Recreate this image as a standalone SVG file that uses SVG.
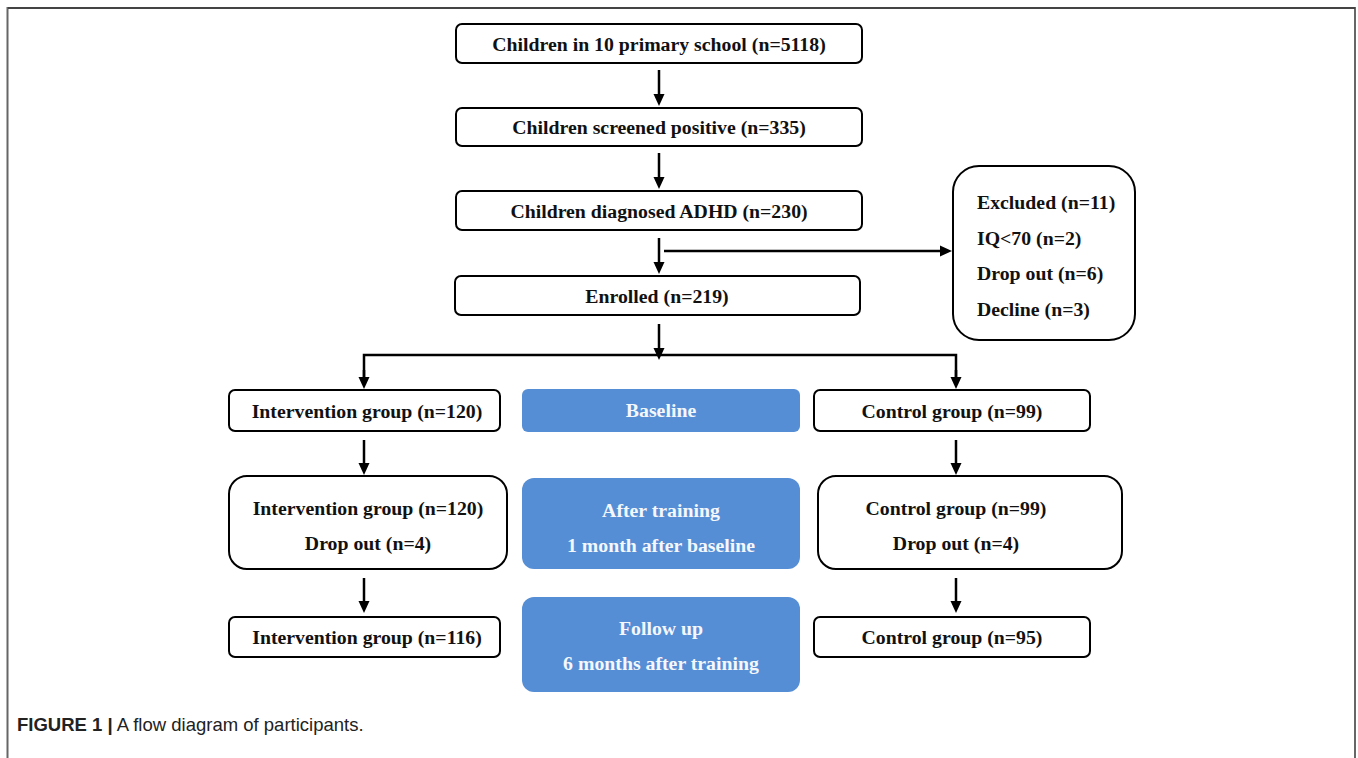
<svg xmlns="http://www.w3.org/2000/svg" width="1358" height="758" viewBox="0 0 1358 758">
<defs>
<marker id="ah" markerWidth="12" markerHeight="12" refX="6" refY="6" orient="auto" markerUnits="userSpaceOnUse" viewBox="0 0 12 12">
<path d="M0,0.5 L12,6 L0,11.5 z" fill="#000"/>
</marker>
<style>
.box{fill:#fff;stroke:#000;stroke-width:2}
.blue{fill:#558ED5;stroke:none}
.t{font-family:"Liberation Serif","Times New Roman",serif;font-weight:bold;font-size:19.8px;fill:#111;text-anchor:middle}
.tl{font-family:"Liberation Serif","Times New Roman",serif;font-weight:bold;font-size:19.8px;fill:#111}
.tw{font-family:"Liberation Serif","Times New Roman",serif;font-weight:bold;font-size:19.8px;fill:#f4f7fc;text-anchor:middle}
.c{stroke:#000;stroke-width:2.5;fill:none}
.cap{font-family:"Liberation Sans",Arial,sans-serif;font-size:18.5px;fill:#222}
</style>
</defs>
<rect width="1358" height="758" fill="#fff"/>
<path d="M7.5,758 V8 H1355 V758" fill="none" stroke="#666" stroke-width="2"/>
<path d="M8,8 H1355" stroke="#444" stroke-width="2"/>

<g id="connectors">
<line class="c" x1="659" y1="70" x2="659" y2="100" marker-end="url(#ah)"/>
<line class="c" x1="659" y1="153" x2="659" y2="183" marker-end="url(#ah)"/>
<line class="c" x1="659" y1="238" x2="659" y2="268" marker-end="url(#ah)"/>
<line class="c" x1="664" y1="251" x2="946" y2="251" marker-end="url(#ah)"/>
<line class="c" x1="659" y1="324" x2="659" y2="354" marker-end="url(#ah)"/>
<path class="c" d="M364,384 V355 H956 V384"/>
<line class="c" x1="364" y1="370" x2="364" y2="383" marker-end="url(#ah)"/>
<line class="c" x1="956" y1="370" x2="956" y2="383" marker-end="url(#ah)"/>
<line class="c" x1="364" y1="440" x2="364" y2="469" marker-end="url(#ah)"/>
<line class="c" x1="956" y1="440" x2="956" y2="469" marker-end="url(#ah)"/>
<line class="c" x1="364" y1="578" x2="364" y2="607" marker-end="url(#ah)"/>
<line class="c" x1="956" y1="578" x2="956" y2="607" marker-end="url(#ah)"/>
</g>

<g id="n1"><rect class="box" x="456" y="24" width="406" height="39" rx="6"/><text class="t" x="659" y="51">Children in 10 primary school (n=5118)</text></g>
<g id="n2"><rect class="box" x="456" y="108" width="406" height="38" rx="6"/><text class="t" x="659" y="134">Children screened positive  (n=335)</text></g>
<g id="n3"><rect class="box" x="456" y="191" width="406" height="39" rx="6"/><text class="t" x="659" y="218">Children diagnosed ADHD (n=230)</text></g>
<g id="n4"><rect class="box" x="455" y="276" width="405" height="39" rx="6"/><text class="t" x="657" y="303">Enrolled (n=219)</text></g>
<g id="excl"><rect class="box" x="953" y="166" width="182" height="174" rx="26"/>
<text class="tl" x="977" y="209">Excluded (n=11)</text>
<text class="tl" x="977" y="245">IQ&lt;70 (n=2)</text>
<text class="tl" x="977" y="280">Drop out (n=6)</text>
<text class="tl" x="977" y="316">Decline (n=3)</text></g>

<g id="i1"><rect class="box" x="229" y="390" width="271" height="41" rx="6"/><text class="t" x="367" y="418">Intervention group (n=120)</text></g>
<g id="b1"><rect class="blue" x="522" y="389" width="278" height="43" rx="6"/><text class="tw" x="661" y="417">Baseline</text></g>
<g id="c1"><rect class="box" x="814" y="390" width="276" height="41" rx="6"/><text class="t" x="952" y="418">Control group (n=99)</text></g>

<g id="i2"><rect class="box" x="229" y="476" width="278" height="93" rx="18"/><text class="t" x="368" y="515">Intervention group (n=120)</text><text class="t" x="368" y="550">Drop out (n=4)</text></g>
<g id="b2"><rect class="blue" x="522" y="478" width="278" height="91" rx="12"/><text class="tw" x="661" y="517">After training</text><text class="tw" x="661" y="552">1 month after baseline</text></g>
<g id="c2"><rect class="box" x="818" y="476" width="304" height="93" rx="18"/><text class="t" x="956" y="515">Control group (n=99)</text><text class="t" x="956" y="550">Drop out (n=4)</text></g>

<g id="i3"><rect class="box" x="229" y="617" width="271" height="40" rx="6"/><text class="t" x="367" y="644">Intervention group (n=116)</text></g>
<g id="b3"><rect class="blue" x="522" y="597" width="278" height="95" rx="12"/><text class="tw" x="661" y="635">Follow up</text><text class="tw" x="661" y="670">6 months after training</text></g>
<g id="c3"><rect class="box" x="814" y="617" width="276" height="40" rx="6"/><text class="t" x="952" y="644">Control group (n=95)</text></g>

<text class="cap" x="17" y="731"><tspan font-weight="bold">FIGURE 1 |</tspan> A flow diagram of participants.</text>
</svg>
